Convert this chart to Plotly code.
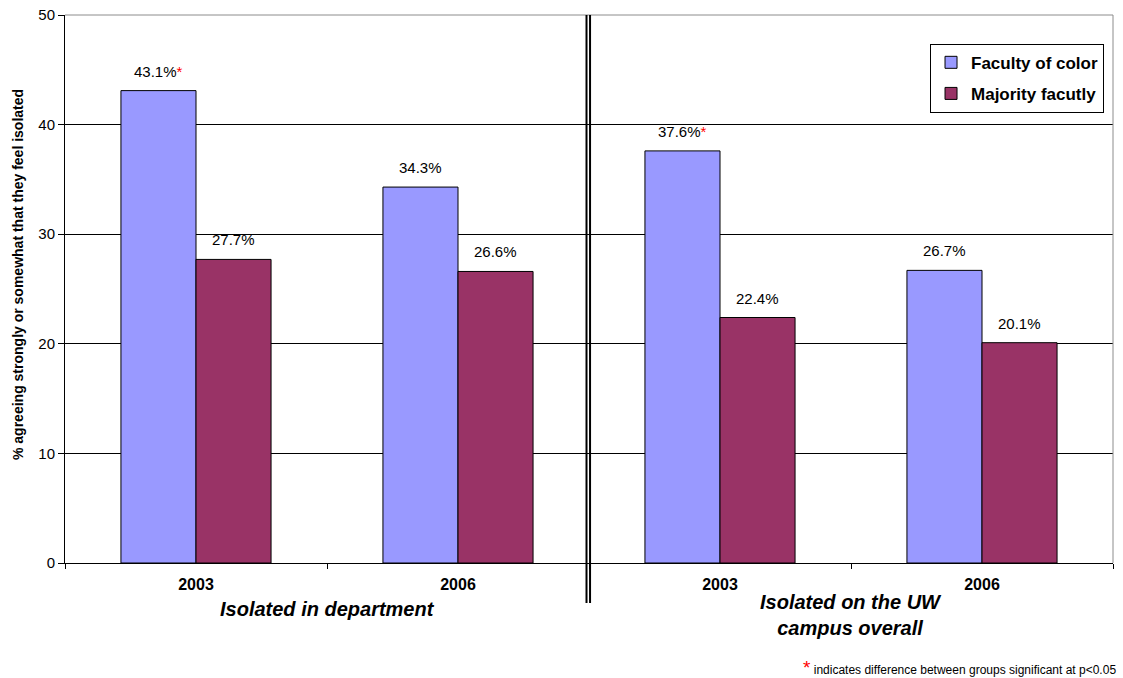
import plotly.graph_objects as go

# Data
categories = ["dept_2003", "dept_2006", "campus_2003", "campus_2006"]
year_labels = ["2003", "2006", "2003", "2006"]
faculty_of_color = [43.1, 34.3, 37.6, 26.7]
majority_faculty = [27.7, 26.6, 22.4, 20.1]
significant_color = [True, False, True, False]
group_labels = ["Isolated in department", "Isolated on the UW<br>campus overall"]
y_title = "% agreeing strongly or somewhat that they feel isolated"

FONT = "Liberation Sans, Arial, sans-serif"
STAR = "<span style='color:#FF0000'>*</span>"
BAR_PX = 75  # each bar's width in pixels within a group


def fmt(v, star=False):
    return f"{v:.1f}%" + (STAR if star else "")


fig = go.Figure()
fig.add_trace(go.Bar(
    x=categories, y=faculty_of_color, name="Faculty of color",
    marker=dict(color="#9999FF", line=dict(color="#000000", width=1)),
    legendgroup="a",
))
fig.add_trace(go.Bar(
    x=categories, y=majority_faculty, name="Majority facutly",
    marker=dict(color="#993366", line=dict(color="#000000", width=1)),
    legendgroup="b",
))

fig.update_layout(
    width=1123, height=678,
    margin=dict(l=65, r=10, t=15, b=115, autoexpand=False),
    paper_bgcolor="#FFFFFF", plot_bgcolor="#FFFFFF",
    barmode="group", bargap=0.427, bargroupgap=0,
    font=dict(family=FONT, size=13, color="#000000"),
    showlegend=True,
    legend=dict(
        x=0.8254, y=0.9475, xanchor="left", yanchor="top",
        bordercolor="#000000", borderwidth=1, bgcolor="#FFFFFF",
        font=dict(family=FONT, size=17, color="#000000", weight="bold"),
        tracegroupgap=6, traceorder="grouped", itemwidth=30,
    ),
)

fig.update_xaxes(
    type="category", categoryorder="array", categoryarray=categories,
    tickvals=categories, ticktext=year_labels,
    tickson="boundaries", ticks="outside", ticklen=5, tickcolor="#000000",
    tickfont=dict(family=FONT, size=16, color="#000000", weight="bold"),
    ticklabelstandoff=7, automargin=False,
    showline=True, linecolor="#000000", linewidth=1,
    showgrid=False, zeroline=False,
)
fig.update_yaxes(
    range=[0, 50], tickvals=[0, 10, 20, 30, 40, 50],
    ticks="outside", ticklen=6, tickcolor="#000000",
    tickfont=dict(family=FONT, size=15, color="#000000"),
    automargin=False,
    showline=True, linecolor="#000000", linewidth=1,
    showgrid=True, gridcolor="#000000", gridwidth=1,
    zeroline=False,
)

# Y-axis title, set slightly above the plot's vertical centre
fig.add_annotation(x=(18 - 65) / 1048, xref="paper", y=(563 - 275) / 548, yref="paper",
                   text=f"<b>{y_title}</b>", textangle=-90, showarrow=False,
                   xanchor="center", yanchor="middle",
                   font=dict(family=FONT, size=14, color="#000000"))

# Value labels above each bar
for cat, v, s in zip(categories, faculty_of_color, significant_color):
    fig.add_annotation(x=cat, y=v, xref="x", yref="y", text=fmt(v, s),
                       showarrow=False, yanchor="bottom", xshift=-BAR_PX / 2, yshift=9,
                       font=dict(family=FONT, size=15, color="#000000"))
for cat, v in zip(categories, majority_faculty):
    fig.add_annotation(x=cat, y=v, xref="x", yref="y", text=fmt(v),
                       showarrow=False, yanchor="bottom", xshift=BAR_PX / 2, yshift=9,
                       font=dict(family=FONT, size=15, color="#000000"))

# Gray frame along the top and right edges of the plot
fig.add_shape(type="line", xref="paper", yref="paper", x0=0, x1=1, y0=1, y1=1,
              line=dict(color="#8C8C8C", width=1))
fig.add_shape(type="line", xref="paper", yref="paper", x0=1, x1=1, y0=0, y1=1,
              line=dict(color="#8C8C8C", width=1))

# Double divider between the two measures
for dx, w in [(-0.0095, 2.0), (0.004, 2.0)]:
    fig.add_shape(type="line", xref="x", yref="paper",
                  x0=1.5 + dx, x1=1.5 + dx, y0=-0.073, y1=1,
                  line=dict(color="#000000", width=w))

# Group labels under the year ticks
fig.add_annotation(x=0.5, xref="x", y=-0.084, yref="paper", yanchor="middle",
                   text=f"<b><i>{group_labels[0]}</i></b>", showarrow=False,
                   font=dict(family=FONT, size=20, color="#000000"))
fig.add_annotation(x=2.5, xref="x", y=-0.095, yref="paper", yanchor="middle",
                   text=f"<b><i>{group_labels[1]}</i></b>", showarrow=False,
                   font=dict(family=FONT, size=20, color="#000000"))

# Footnote
fig.add_annotation(
    x=1, xref="paper", xanchor="right", xshift=5, y=-0.19, yref="paper", yanchor="middle",
    text="<span style='color:#FF0000;font-size:19px'>*</span> indicates difference between groups significant at p<0.05",
    showarrow=False, font=dict(family=FONT, size=12, color="#000000"),
)

fig.write_html("out.html")
